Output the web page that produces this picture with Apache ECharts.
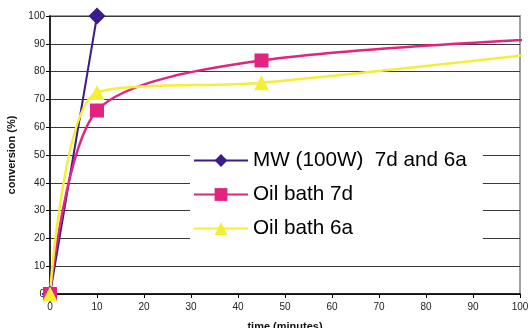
<!DOCTYPE html>
<html><head><meta charset="utf-8">
<script src="https://cdn.jsdelivr.net/npm/echarts@6/dist/echarts.min.js"></script>
<style>html,body{margin:0;padding:0;background:#fff}#c{width:531px;height:328px}</style>
</head><body><div id="c"></div>
<script>
// data (time in minutes, conversion in %)
const seriesNames = ['MW (100W)  7d and 6a', 'Oil bath 7d', 'Oil bath 6a'];
const mwTime = [0, 10];
const mwConv = [0, 100];
const oil7dTime = [0, 10, 45, 120];
const oil7dConv = [0, 66, 84, 93];
const oil6aTime = [0, 10, 45, 120];
const oil6aConv = [0, 72.5, 76, 89.5];
const xTicks = [0,10,20,30,40,50,60,70,80,90,100];
const yTicks = [0,10,20,30,40,50,60,70,80,90,100];

const pairs = (xs, ys) => xs.map((x, i) => [x, ys[i]]);
const font = 'Liberation Sans, Arial, sans-serif';
const chart = echarts.init(document.getElementById('c'), null, {renderer: 'canvas'});
chart.setOption({
  animation: false,
  backgroundColor: '#fff',
  grid: {left: 50, right: 11, top: 16, bottom: 34, show: true, borderColor: '#a0a0a0', borderWidth: 2,
         backgroundColor: 'transparent', outerBoundsMode: 'none', containLabel: false},
  xAxis: {
    type: 'value', min: xTicks[0], max: xTicks[xTicks.length-1], interval: 10,
    name: 'time (minutes)', nameLocation: 'middle', nameGap: 27,
    nameTextStyle: {fontFamily: font, fontWeight: 'bold', fontSize: 11, color: '#111'},
    axisLine: {show: true, onZero: false, lineStyle: {color: '#000', width: 1.5}},
    axisTick: {show: true, length: 4, lineStyle: {color: '#000'}},
    axisLabel: {fontFamily: font, fontSize: 10, color: '#222', margin: 8},
    splitLine: {show: false}
  },
  yAxis: {
    type: 'value', min: yTicks[0], max: yTicks[yTicks.length-1], interval: 10,
    name: 'conversion (%)', nameLocation: 'middle', nameGap: 28,
    nameTextStyle: {fontFamily: font, fontWeight: 'bold', fontSize: 11, color: '#111'},
    axisLine: {show: true, onZero: false, lineStyle: {color: '#000', width: 1.5}},
    axisTick: {show: true, length: 4, lineStyle: {color: '#000'}},
    axisLabel: {fontFamily: font, fontSize: 10, color: '#222', margin: 5},
    splitLine: {show: true, lineStyle: {color: '#3a3a3a', width: 1}}
  },
  legend: {
    orient: 'vertical', left: 190, top: 144,
    backgroundColor: '#fff', padding: [6, 16, 6, 3],
    itemWidth: 54, itemHeight: 16, itemGap: 13,
    textStyle: {fontFamily: font, fontSize: 20.7, color: '#000'},
    data: seriesNames
  },
  series: [
    {name: seriesNames[0], type: 'line', data: pairs(mwTime, mwConv), smooth: false,
     symbol: 'diamond', symbolSize: 17, clip: true,
     lineStyle: {color: '#3b1c8c', width: 2}, itemStyle: {color: '#3b1c8c'}},
    {name: seriesNames[1], type: 'line', data: pairs(oil7dTime, oil7dConv), smooth: 0.28,
     symbol: 'rect', symbolSize: 14, clip: true,
     lineStyle: {color: '#e3237f', width: 2.5}, itemStyle: {color: '#e3237f'}},
    {name: seriesNames[2], type: 'line', data: pairs(oil6aTime, oil6aConv), smooth: 0.28,
     symbol: 'triangle', symbolSize: 15, clip: true,
     lineStyle: {color: '#f4ef35', width: 2.5}, itemStyle: {color: '#f4ef35'}}
  ]
});
</script></body></html>
